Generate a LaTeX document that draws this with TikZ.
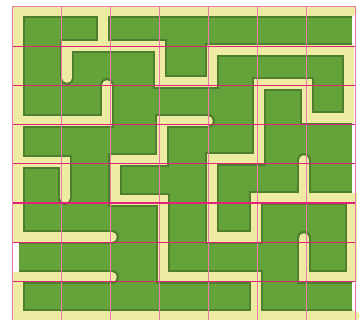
\documentclass[tikz,border=0pt]{standalone}
\usepackage{tikz}
\usepackage{xcolor}
\definecolor{lawn}{HTML}{64A23A}
\definecolor{hedge}{HTML}{4F7E2E}
\definecolor{sand}{HTML}{EEEBA3}
\definecolor{gridlight}{HTML}{EC7AAF}
\definecolor{griddark}{HTML}{E2217B}
% all sand paths of the maze, drawn with the style given
\newcommand{\mazewalls}[1]{%
  \draw[#1] (352,11) -- (18,11) -- (18,237) -- (112,237);
  \draw[#1] (112,277) -- (18,277) -- (18,316) -- (355,316);
  \draw[#1] (103,11) -- (103,46);
  \draw[#1] (67,78) -- (67,46) -- (160,46) -- (160,82) -- (212,82) -- (212,50)
    -- (349,50) -- (349,118) -- (307,118) -- (307,84) -- (259,84) -- (259,159)
    -- (212,159) -- (212,237) -- (256,237) -- (256,198) -- (352,198)
    -- (352,277) -- (304,277) -- (304,238);
  \draw[#1] (304,160) -- (304,198);
  \draw[#1] (107,85) -- (107,121) -- (18,121);
  \draw[#1] (18,162) -- (65,162) -- (65,198);
  \draw[#1] (208,121) -- (162,121) -- (162,160) -- (115,160) -- (115,200)
    -- (163,200) -- (163,277) -- (256,277) -- (256,316);
}

\begin{document}
\begin{tikzpicture}[x=1pt,y=-1pt,
  wallshade/.style={hedge,line width=14pt,line cap=round},
  wall/.style={sand,line width=9.5pt,line cap=round}]
  \useasboundingbox (0,0) rectangle (364,320);

  % lawn
  \fill[lawn] (13,7) rectangle (352,320);

  % dark rim along the paths
  \begin{scope}
    \clip (13,7) rectangle (352,320);
    \mazewalls{wallshade}
  \end{scope}

  % opening in the left side
  \fill[white] (12,242) rectangle (18.5,273);

  % paths
  \mazewalls{wall}

  % grid on top
  \foreach \x in {61,110,...,306}
    \draw[gridlight,line width=1pt] (\x,7) -- (\x,320);
  \foreach \j in {1,...,7}
    \draw[griddark,line width=1.3pt] (12,{7+39.2*\j}) -- (355,{7+39.2*\j});
  \draw[gridlight,line width=1pt] (12,7) rectangle (355,321);
\end{tikzpicture}
\end{document}
